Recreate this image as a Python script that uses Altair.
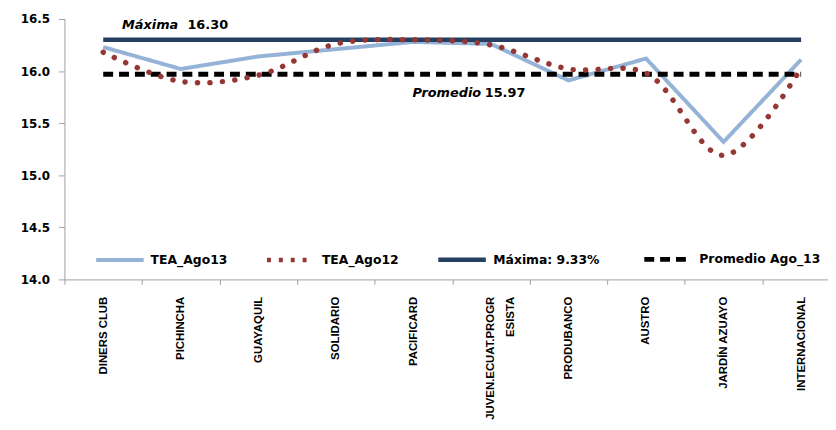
import altair as alt
import pandas as pd

categories = ["DINERS CLUB", "PICHINCHA", "GUAYAQUIL", "SOLIDARIO", "PACIFICARD",
              "JUVEN.ECUAT.PROGRESISTA", "PRODUBANCO", "AUSTRO", "JARDÍN AZUAYO", "INTERNACIONAL"]
tea_ago13 = [16.23, 16.02, 16.14, 16.21, 16.28, 16.26, 15.91, 16.12, 15.32, 16.11]
tea_ago12 = [16.18, 15.90, 15.96, 16.26, 16.30, 16.25, 16.02, 15.98, 15.19, 16.03]
maxima = 16.30
promedio = 15.97
series_names = ["TEA_Ago13", "TEA_Ago12", "Máxima:  9.33%", "Promedio Ago_13"]
series_colors = ["#95B3D7", "#953735", "#243F60", "#000000"]
series_dash = [[1, 0], [4, 8], [1, 0], [10, 6]]
series_width = [4, 5, 3, 3]

rows = []
for i, c in enumerate(categories):
    rows.append({"cat": c, "val": tea_ago13[i], "series": series_names[0]})
    rows.append({"cat": c, "val": tea_ago12[i], "series": series_names[1]})
    rows.append({"cat": c, "val": maxima, "series": series_names[2]})
    rows.append({"cat": c, "val": promedio, "series": series_names[3]})
df = pd.DataFrame(rows)

FONT = "DejaVu Sans"
legend = alt.Legend(title=None, orient="none", legendX=30, legendY=216, direction="horizontal",
                    symbolType="stroke", symbolSize=2304, labelFont=FONT, labelFontSize=12.5,
                    labelFontWeight="bold", labelColor="#000", labelOffset=5, columnPadding=30)

x_enc = alt.X("cat:N", sort=categories,
              scale=alt.Scale(type="band", paddingInner=0, paddingOuter=0, range=[0, 783]),
              axis=alt.Axis(title=None, labelAngle=-90, tickBand="extent", tickSize=5,
                            labelPadding=12, labelFont="Liberation Sans", labelFontSize=11.5,
                            labelFontWeight="bold", labelColor="#000", domainColor="#A0A0A0",
                            tickColor="#A0A0A0", labelLineHeight=20,
                            labelExpr="datum.value == 'JUVEN.ECUAT.PROGRESISTA' ? ['JUVEN.ECUAT.PROGR', 'ESISTA'] : datum.value"))
y_enc = alt.Y("val:Q", scale=alt.Scale(domain=[14, 16.5], nice=False, zero=False),
              axis=alt.Axis(title=None, values=[14, 14.5, 15, 15.5, 16, 16.5], format=".1f",
                            grid=False, tickSize=6, labelPadding=9, labelFont=FONT,
                            labelFontSize=12, labelFontWeight="bold", labelColor="#000",
                            domainColor="#A0A0A0", tickColor="#A0A0A0"))
color_enc = alt.Color("series:N", scale=alt.Scale(domain=series_names, range=series_colors), legend=legend)

lines = alt.Chart(df).transform_filter(alt.datum.series != series_names[1]).mark_line().encode(
    x=x_enc, y=y_enc, color=color_enc,
    strokeDash=alt.StrokeDash("series:N", scale=alt.Scale(domain=series_names, range=series_dash), legend=legend),
    strokeWidth=alt.StrokeWidth("series:N", scale=alt.Scale(domain=series_names, range=series_width), legend=legend),
)

dotted = alt.Chart(df).transform_filter(alt.datum.series == series_names[1]).mark_line(
    interpolate="catmull-rom", strokeDash=[0.1, 12.5], strokeCap="round", strokeWidth=5.5
).encode(x=x_enc, y=y_enc, color=color_enc)

ann = pd.DataFrame({
    "cat": ["DINERS CLUB", "DINERS CLUB", "PACIFICARD", "PACIFICARD"],
    "val": [maxima, maxima, promedio, promedio],
    "t": ["Máxima", f"{maxima:.2f}", "Promedio", f"{promedio:.2f}"],
    "kind": ["lab", "num", "lab", "num"],
})
ann_base = alt.Chart(ann).encode(x=alt.X("cat:N", sort=categories), y="val:Q", text="t:N")
t1 = ann_base.transform_filter("datum.t == 'Máxima'").mark_text(
    align="left", dx=19, dy=-15, font=FONT, fontSize=13, fontWeight="bold", fontStyle="italic", color="#000")
t2 = ann_base.transform_filter("datum.kind == 'num' && datum.val > 16.1").mark_text(
    align="left", dx=85, dy=-15, font=FONT, fontSize=13, fontWeight="bold", color="#000")
t3 = ann_base.transform_filter("datum.t == 'Promedio'").mark_text(
    align="left", dx=-1, dy=19, font=FONT, fontSize=13, fontWeight="bold", fontStyle="italic", color="#000")
t4 = ann_base.transform_filter("datum.kind == 'num' && datum.val < 16.1").mark_text(
    align="left", dx=72, dy=19, font=FONT, fontSize=13, fontWeight="bold", color="#000")

chart = alt.layer(lines, dotted, t1, t2, t3, t4).properties(
    width=771, height=263,
    autosize=alt.AutoSizeParams(type="none"),
    padding={"left": 57, "top": 9, "right": 0, "bottom": 150},
).configure_view(stroke=None)

chart.save("out.html", embed_options={"renderer": "svg", "actions": False})
